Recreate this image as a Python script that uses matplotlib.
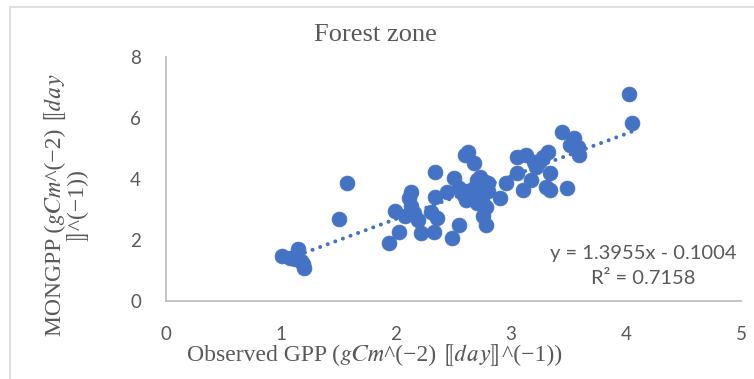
import matplotlib
matplotlib.use('Agg')
import matplotlib.pyplot as plt
import numpy as np
from matplotlib.patches import Rectangle

# observed vs modelled GPP
obs_gpp = [1.01, 1.08, 1.12, 1.15, 1.17, 1.19, 1.20, 1.50, 1.57, 1.94,
           1.99, 2.03, 2.08, 2.11, 2.13, 2.13, 2.16, 2.19, 2.22, 2.30,
           2.33, 2.34, 2.34, 2.36, 2.44, 2.49, 2.50, 2.55, 2.55, 2.58,
           2.61, 2.62, 2.60, 2.63, 2.65, 2.68, 2.68, 2.70, 2.70, 2.72,
           2.74, 2.75, 2.73, 2.77, 2.76, 2.78, 2.78, 2.80, 2.80, 2.90,
           2.96, 3.05, 3.05, 3.10, 3.13, 3.17, 3.20, 3.22, 3.25, 3.28,
           3.32, 3.30, 3.34, 3.34, 3.44, 3.49, 3.51, 3.55, 3.58, 3.59,
           4.03, 4.05]
mon_gpp = [1.48, 1.42, 1.38, 1.70, 1.32, 1.22, 1.08, 2.69, 3.87, 1.90,
           2.95, 2.26, 2.80, 3.38, 3.57, 3.10, 2.89, 2.66, 2.23, 2.92,
           2.26, 3.41, 4.23, 2.72, 3.57, 2.07, 4.03, 2.49, 3.70, 3.50,
           3.31, 3.60, 4.80, 4.89, 3.40, 4.52, 3.70, 3.97, 3.20, 3.50,
           3.74, 3.30, 4.05, 3.90, 2.80, 3.08, 2.49, 3.87, 3.60, 3.38,
           3.87, 4.72, 4.20, 3.64, 4.79, 3.97, 4.55, 4.39, 4.60, 4.72,
           4.89, 3.74, 4.20, 3.64, 5.54, 3.70, 5.11, 5.34, 5.05, 4.79,
           6.79, 5.84]
x_ticks = [0, 1, 2, 3, 4, 5]
y_ticks = [0, 2, 4, 6, 8]
slope = 1.3955
intercept = -0.1004
r_squared = 0.7158

BLUE = '#4472C4'
GREY = '#595959'
SERIF = ['Liberation Serif', 'STIXGeneral', 'DejaVu Serif', 'DejaVu Sans']

W, H = 754, 379
fig = plt.figure(figsize=(W / 100, H / 100), dpi=100)

# light chart-area border
fig.patches.append(Rectangle((10 / W, -0.05), 1.2, (H - 7) / H + 0.05,
                             transform=fig.transFigure, fill=False,
                             edgecolor='#D9D9D9', linewidth=1.2))

ax = fig.add_axes([166 / W, 1 - 301 / H, 575 / W, 244 / H])

ax.scatter(obs_gpp, mon_gpp, s=115, color=BLUE, edgecolors=BLUE,
           linewidths=0.5, zorder=3)

xs = np.array([min(obs_gpp), max(obs_gpp)])
ax.plot(xs, slope * xs + intercept, color=BLUE, linewidth=2.9,
        linestyle=(0, (0.01, 2.0)), dash_capstyle='round', zorder=2)

ax.set_xlim(0, 5)
ax.set_ylim(0, 8)
ax.set_xticks(x_ticks)
ax.set_yticks(y_ticks)
ax.tick_params(length=0, labelsize=13.5, labelcolor=GREY)
ax.tick_params(axis='x', pad=18)
ax.tick_params(axis='y', pad=18)
for lab in ax.get_xticklabels() + ax.get_yticklabels():
    lab.set_family('Lato')

for side in ['top', 'right']:
    ax.spines[side].set_visible(False)
for side in ['left', 'bottom']:
    ax.spines[side].set_color('#BFBFBF')
    ax.spines[side].set_linewidth(1.3)

fig.text(375 / W, 1 - 35 / H, 'Forest zone', ha='center', va='center',
         fontsize=19, color=GREY, family=SERIF)

fig.text(375 / W, 1 - 355 / H, 'Observed GPP (𝑔𝐶𝑚^(−2) ⟦𝑑𝑎𝑦⟧^(−1))',
         ha='center', va='center', fontsize=17, color=GREY, family=SERIF)

fig.text(66 / W, 1 - 205 / H, 'MONGPP (𝑔𝐶𝑚^(−2) ⟦𝑑𝑎𝑦\n⟧^(−1))',
         ha='center', va='center', rotation=90, fontsize=17, color=GREY,
         family=SERIF, linespacing=1.0, multialignment='center')

fig.text(643 / W, 1 - 266 / H,
         f'y = {slope:.4f}x - {abs(intercept):.4f}\nR² = {r_squared:.4f}',
         ha='center', va='center', fontsize=14.5, color=GREY, family='Lato',
         linespacing=1.62)

fig.savefig('out.png', dpi=100)
